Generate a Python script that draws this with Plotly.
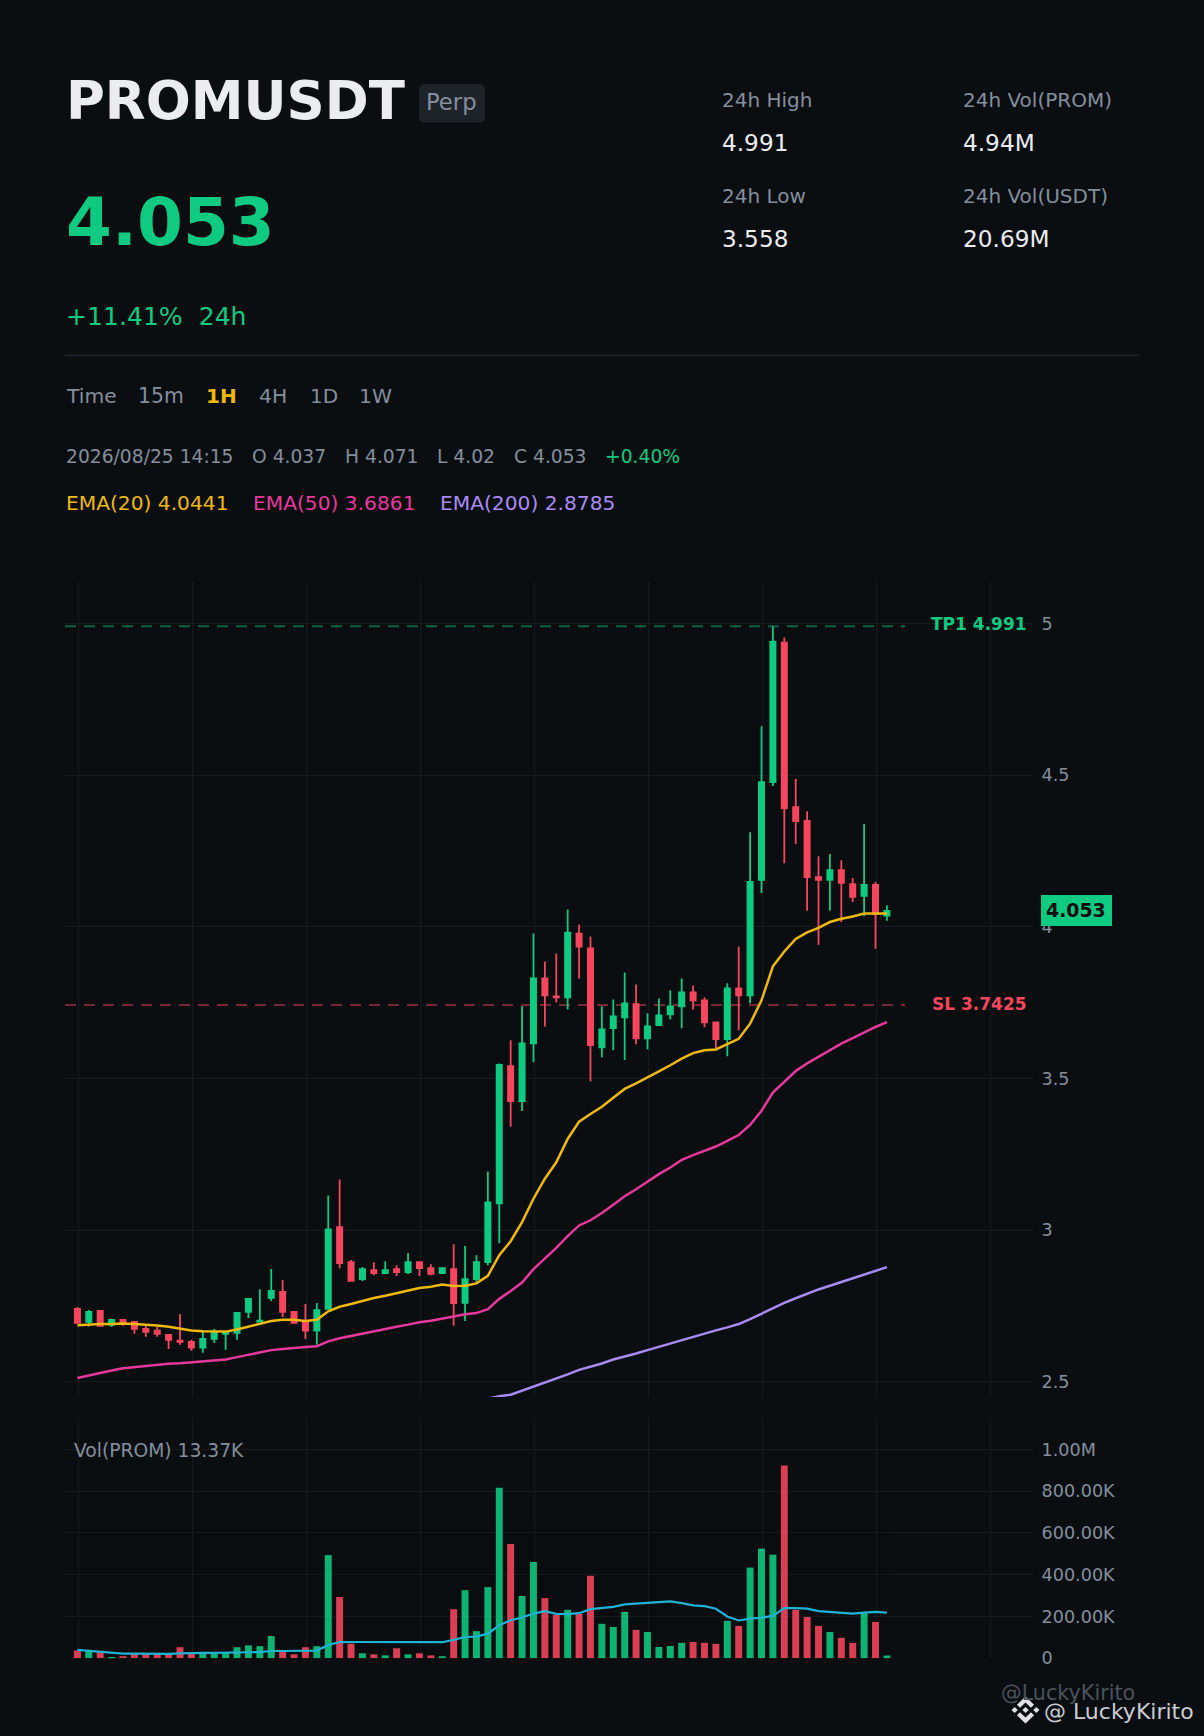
import plotly.graph_objects as go

W, H = 1204, 1736

opens = [2.741,2.698,2.734,2.688,2.705,2.698,2.675,2.669,2.655,2.636,2.632,2.613,2.642,2.659,2.662,2.731,2.699,2.777,2.797,2.731,
         2.698,2.669,2.741,3.01,2.895,2.839,2.869,2.859,2.872,2.862,2.895,2.875,2.859,2.872,2.761,2.839,2.895,3.089,3.541,3.426,
         3.616,3.83,3.771,3.768,3.978,3.929,3.603,3.666,3.702,3.745,3.633,3.676,3.712,3.738,3.784,3.758,3.685,3.63,3.797,3.774,
         4.155,4.477,4.937,4.395,4.349,4.164,4.155,4.187,4.141,4.102,4.138,4.037]
closes = [2.695,2.731,2.685,2.705,2.698,2.675,2.665,2.659,2.639,2.632,2.613,2.642,2.665,2.665,2.728,2.774,2.702,2.8,2.731,2.695,
          2.669,2.737,3.003,2.892,2.833,2.872,2.859,2.869,2.862,2.895,2.875,2.856,2.875,2.76,2.839,2.895,3.092,3.545,3.426,3.616,
          3.83,3.774,3.768,3.981,3.935,3.61,3.662,3.705,3.748,3.633,3.672,3.708,3.738,3.784,3.758,3.685,3.63,3.797,3.774,4.148,
          4.477,4.94,4.391,4.349,4.164,4.155,4.187,4.145,4.099,4.138,4.043,4.053]
highs = [2.747,2.737,2.737,2.705,2.706,2.698,2.685,2.682,2.655,2.724,2.639,2.665,2.675,2.668,2.731,2.777,2.806,2.872,2.836,2.734,
         2.757,2.76,3.115,3.167,2.902,2.879,2.895,2.898,2.885,2.925,2.898,2.888,2.879,2.954,2.948,2.918,3.194,3.55,3.626,3.738,
         3.978,3.886,3.912,4.057,4.008,3.968,3.738,3.761,3.85,3.81,3.715,3.764,3.791,3.83,3.807,3.768,3.686,3.814,3.935,4.312,
         4.661,4.99,4.954,4.487,4.381,4.233,4.24,4.22,4.161,4.339,4.148,4.071]
lows = [2.695,2.683,2.682,2.682,2.685,2.659,2.649,2.649,2.609,2.623,2.603,2.596,2.629,2.606,2.639,2.711,2.698,2.767,2.714,2.695,
        2.642,2.623,2.738,2.875,2.833,2.833,2.852,2.856,2.849,2.856,2.849,2.852,2.856,2.685,2.701,2.829,2.885,2.957,3.341,3.393,
        3.554,3.672,3.751,3.728,3.83,3.491,3.57,3.593,3.561,3.613,3.597,3.676,3.695,3.666,3.728,3.669,3.6,3.574,3.659,3.748,
        4.112,4.464,4.21,4.273,4.053,3.941,4.053,4.016,4.082,4.036,3.928,4.02]
volumes = [38,35,30,5,10,22,22,22,22,53,22,22,26,26,53,62,58,106,30,19,53,58,494,293,70,24,19,14,48,19,24,14,10,235,326,130,341,816,547,298,
           461,288,208,232,213,395,165,150,222,136,126,54,59,74,78,74,69,179,155,434,525,496,923,232,198,155,126,98,74,218,174,13.37]
vol_ma = [40,35,32,27,22,22,21,21,21,24,26,26,26,26,27,29,30,35,35,35,35,37,64,77,78,78,78,78,80,78,78,78,77,88,102,104,118,158,182,195,
          214,226,213,211,216,235,242,246,258,262,267,269,272,264,253,250,237,200,181,190,194,203,240,240,238,226,222,221,214,219,222,219]
ema20 = [2.687,2.690,2.691,2.691,2.693,2.691,2.689,2.686,2.682,2.676,2.670,2.667,2.666,2.666,2.673,2.683,2.691,2.701,2.705,2.705,
         2.701,2.705,2.733,2.748,2.757,2.767,2.777,2.784,2.792,2.802,2.81,2.814,2.821,2.816,2.817,2.825,2.85,2.918,2.964,3.027,
         3.104,3.170,3.224,3.301,3.358,3.383,3.407,3.437,3.466,3.484,3.503,3.524,3.544,3.566,3.584,3.593,3.596,3.614,3.631,3.681,
         3.758,3.87,3.919,3.96,3.982,3.997,4.016,4.027,4.034,4.044,4.044,4.0441]
ema50 = [2.513,2.522,2.531,2.538,2.545,2.549,2.554,2.557,2.56,2.562,2.565,2.567,2.57,2.574,2.582,2.59,2.597,2.605,2.609,2.613,
         2.615,2.618,2.634,2.644,2.652,2.66,2.667,2.674,2.682,2.689,2.697,2.702,2.71,2.716,2.723,2.727,2.74,2.774,2.8,2.828,
         2.872,2.907,2.942,2.981,3.016,3.033,3.057,3.084,3.112,3.135,3.16,3.185,3.207,3.232,3.248,3.262,3.276,3.295,3.314,3.347,
         3.394,3.454,3.489,3.525,3.55,3.571,3.593,3.615,3.633,3.652,3.67,3.6861]
ema200_index = list(range(36, 72))
ema200 = [2.445,2.453,2.458,2.471,2.484,2.497,2.51,2.525,2.54,2.55,2.561,2.574,2.583,2.594,2.605,2.616,2.627,2.639,2.649,2.659,
          2.67,2.68,2.691,2.707,2.725,2.745,2.761,2.776,2.791,2.805,2.817,2.829,2.841,2.854,2.866,2.8785]
price_ticks = [2.5, 3, 3.5, 4, 4.5, 5]
price_tick_labels = ["2.5", "3", "3.5", "4", "4.5", "5"]
vol_ticks = [0, 200, 400, 600, 800, 1000]
vol_tick_labels = ["0", "200.00K", "400.00K", "600.00K", "800.00K", "1.00M"]
x_ticks = list(range(0, 81, 10))
TP1 = 4.991
SL = 3.7425
LAST = 4.053

BG = "#0b0e11"
UP = "#0ecb81"
DOWN = "#f6465d"
GRID = "#161b22"
MUTED = "#848e9c"
LIGHT = "#eaecef"
FONT = "DejaVu Sans"

idx = list(range(len(opens)))
vol_colors = [UP if c >= o else DOWN for o, c in zip(opens, closes)]


def px(x):
    return x / W


def py(y):
    return 1 - y / H


fig = go.Figure()
fig.add_trace(go.Candlestick(
    x=idx, open=opens, high=highs, low=lows, close=closes, xaxis="x", yaxis="y",
    whiskerwidth=0, hoverinfo="skip",
    increasing=dict(line=dict(color=UP, width=1.8), fillcolor=UP),
    decreasing=dict(line=dict(color=DOWN, width=1.8), fillcolor=DOWN),
))
for vals, xs, color in [(ema20, idx, "#f0b90b"), (ema50, idx, "#e6399b"), (ema200, ema200_index, "#a98bf5")]:
    fig.add_trace(go.Scatter(x=xs, y=vals, mode="lines", xaxis="x", yaxis="y", hoverinfo="skip",
                             line=dict(color=color, width=2.5)))
fig.add_trace(go.Bar(x=idx, y=volumes, xaxis="x2", yaxis="y2", width=0.61, hoverinfo="skip",
                     marker=dict(color=vol_colors, line=dict(width=0)), opacity=0.88))
fig.add_trace(go.Scatter(x=idx, y=vol_ma, mode="lines", xaxis="x2", yaxis="y2", hoverinfo="skip",
                         line=dict(color="#1fb3d4", width=2.2)))

annotations = []


def text(s, x, y, size, color, bold=False, family=FONT, anchor="left"):
    annotations.append(dict(
        text=f"<b>{s}</b>" if bold else s, x=px(x), y=py(y), xref="paper", yref="paper",
        xanchor=anchor, yanchor="middle", showarrow=False, borderpad=0, borderwidth=0,
        font=dict(family=family, size=size, color=color),
    ))


text("PROMUSDT", 66, 100, 53, LIGHT, True)
text("Perp", 426, 102, 22.7, MUTED)
text("4.053", 66, 222, 66, UP, True)
text("+11.41%  24h".replace("  ", "&nbsp;&nbsp;"), 66, 316.5, 25.1, UP)
text("24h High", 722, 99.5, 20, MUTED)
text("4.991", 722, 143, 23.2, LIGHT)
text("24h Low", 722, 195.5, 20, MUTED)
text("3.558", 722, 239, 23.2, LIGHT)
text("24h Vol(PROM)", 963, 99.5, 20, MUTED)
text("4.94M", 963, 143, 23.2, LIGHT)
text("24h Vol(USDT)", 963, 195.5, 20, MUTED)
text("20.69M", 963, 239, 23.2, LIGHT)
text("Time", 66, 396, 20.3, MUTED)
text("15m", 138, 396, 20.4, MUTED)
text("1H", 206, 396, 20, "#f0b90b", True)
text("4H", 259, 396, 20.3, MUTED)
text("1D", 310, 396, 20, MUTED)
text("1W", 359, 396, 20.3, MUTED)
text("2026/08/25 14:15", 66, 456.5, 18.7, MUTED)
text("O 4.037", 252, 456.5, 18.7, MUTED)
text("H 4.071", 345, 456.5, 18.7, MUTED)
text("L 4.02", 437, 456.5, 18.7, MUTED)
text("C 4.053", 514, 456.5, 18.7, MUTED)
text("+0.40%", 605, 456.5, 18.7, UP)
text("EMA(20) 4.0441", 66, 503, 20.2, "#f0b90b")
text("EMA(50) 3.6861", 253, 503, 20.2, "#e6399b")
text("EMA(200) 2.8785", 440, 503, 20.2, "#a98bf5")
text("TP1 4.991", 931, 624, 17, UP, True)
text("SL 3.7425", 932, 1003.5, 17, DOWN, True)
text("Vol(PROM) 13.37K", 74, 1450, 18.7, MUTED)
text("4.053", 1046, 910, 18.9, "#0b0e11", True)
text("@LuckyKirito", 1001, 1693, 20.7, "#4c525b")
text("@ LuckyKirito", 1044, 1711, 22, "#c8ccd1")


def rrect(x0, y0, x1, y1, r):
    return (f"M{px(x0+r)},{py(y0)} L{px(x1-r)},{py(y0)} Q{px(x1)},{py(y0)} {px(x1)},{py(y0+r)} "
            f"L{px(x1)},{py(y1-r)} Q{px(x1)},{py(y1)} {px(x1-r)},{py(y1)} L{px(x0+r)},{py(y1)} "
            f"Q{px(x0)},{py(y1)} {px(x0)},{py(y1-r)} L{px(x0)},{py(y0+r)} Q{px(x0)},{py(y0)} {px(x0+r)},{py(y0)} Z")


logo_polys = [
    [(38.73,53.2),(63.32,28.62),(87.92,53.22),(102.22,38.91),(63.32,0),(24.42,38.9)],
    [(0,63.31),(14.3,49),(28.61,63.31),(14.3,77.61)],
    [(38.73,73.41),(63.32,98),(87.92,73.4),(102.23,87.69),(63.33,126.6),(24.42,87.72)],
    [(97.99,63.31),(112.29,49.01),(126.61,63.31),(112.3,77.61)],
    [(77.83,63.3),(63.32,48.78),(48.81,63.28),(63.32,77.78)],
]
logo_path = ""
for poly in logo_polys:
    pts = [(px(1011.5 + p[0] * 28 / 126.61), py(1696.5 + p[1] * 27 / 126.61)) for p in poly]
    logo_path += "M" + " L".join(f"{a},{b}" for a, b in pts) + " Z "

shapes = [
    dict(type="path", xref="paper", yref="paper", path=rrect(419, 84, 485, 122.5, 6),
         fillcolor="#1e2329", line=dict(width=0), layer="below"),
    dict(type="line", xref="paper", yref="paper", x0=px(65), x1=px(1139), y0=py(355.5), y1=py(355.5),
         line=dict(color="#20252c", width=1.5), layer="below"),
    dict(type="line", xref="paper", yref="y", x0=px(65), x1=px(905), y0=TP1, y1=TP1,
         line=dict(color="rgba(14,203,129,0.45)", width=2, dash="11px,8px"), layer="below"),
    dict(type="line", xref="paper", yref="y", x0=px(65), x1=px(905), y0=SL, y1=SL,
         line=dict(color="rgba(246,70,93,0.45)", width=2, dash="11px,8px"), layer="below"),
    dict(type="rect", xref="paper", yref="paper", x0=px(1041), x1=px(1112), y0=py(895), y1=py(926),
         fillcolor=UP, line=dict(width=0), layer="above"),
    dict(type="path", xref="paper", yref="paper", path=logo_path, fillcolor="#dfe1e4",
         line=dict(width=0), layer="above"),
]

x_range = [-1.0, 83.9]
x_common = dict(range=x_range, domain=[px(66), px(1034)], showticklabels=False, showgrid=True,
                gridcolor=GRID, gridwidth=1, zeroline=False, showline=False, tickmode="array",
                tickvals=[t + 0.06 for t in x_ticks], ticks="", fixedrange=True)
y_common = dict(side="right", showgrid=True, gridcolor=GRID, gridwidth=1, zeroline=False, showline=False,
                tickmode="array", ticks="outside", ticklen=3, tickcolor="rgba(0,0,0,0)",
                tickfont=dict(family=FONT, size=17.6, color=MUTED), fixedrange=True)

fig.update_layout(
    width=W, height=H, paper_bgcolor=BG, plot_bgcolor=BG, showlegend=False,
    margin=dict(l=0, r=0, t=0, b=0, pad=0, autoexpand=False),
    font=dict(family=FONT, color=MUTED),
    boxgap=0.35, bargap=0.39, hovermode=False,
    xaxis=dict(**x_common, anchor="y", rangeslider=dict(visible=False)),
    xaxis2=dict(**x_common, anchor="y2"),
    yaxis=dict(**y_common, anchor="x", domain=[py(1397), py(581)], range=[2.4505, 5.14],
               tickvals=price_ticks, ticktext=price_tick_labels),
    yaxis2=dict(**y_common, anchor="x2", domain=[py(1658.3), py(1418)], range=[0, 1150],
                tickvals=vol_ticks, ticktext=vol_tick_labels),
    annotations=annotations, shapes=shapes,
)

fig.write_html("out.html", config={"displayModeBar": False},
               post_script="document.body.style.margin='0';document.body.style.background='#0b0e11';")
